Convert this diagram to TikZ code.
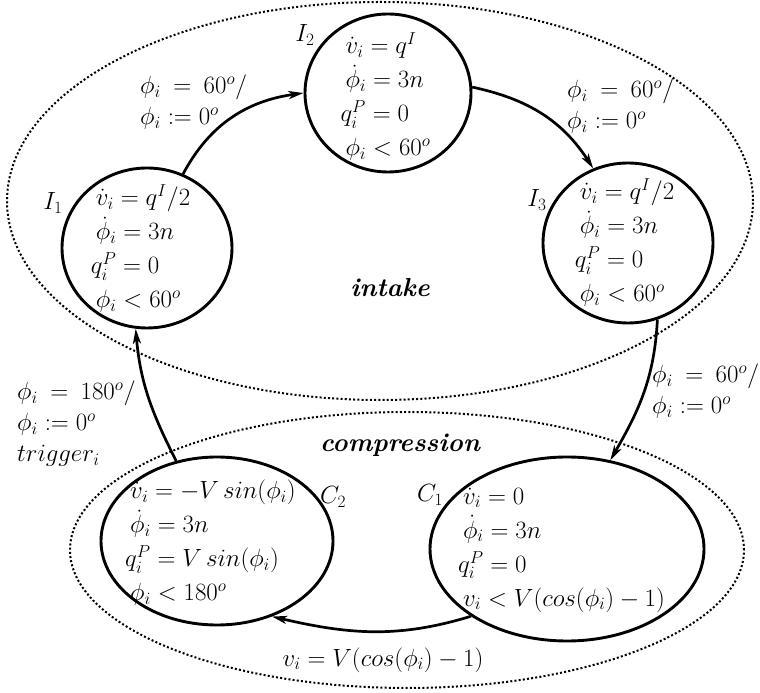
\documentclass[tikz,border=0pt]{standalone}
\usetikzlibrary{arrows.meta,shapes.geometric}
\begin{document}
\begin{tikzpicture}[x=1pt,y=1pt,
  stateshape/.style={ellipse, draw, line width=2.9pt, inner sep=0pt},
  statetext/.style={inner sep=0pt, align=left, font=\fontsize{24}{34}\selectfont},
  lbl/.style={inner sep=0pt, font=\fontsize{24}{30}\selectfont},
  elbl/.style={inner sep=0pt, align=left, anchor=west, font=\fontsize{24}{31}\selectfont},
  trans/.style={line width=2.7pt, -{Stealth[length=15pt,width=8pt,inset=4pt]}},
  region/.style={line width=2pt, dash pattern=on 2pt off 2.2pt},
  regionname/.style={inner sep=0pt, font=\fontsize{26}{30}\selectfont\bfseries\itshape}
]
\useasboundingbox (0,0) rectangle (760,693);
% regions
\draw[region] (380,492) ellipse [x radius=373, y radius=199];
\draw[region] (407,143) ellipse [x radius=337, y radius=138];
\node[regionname] (intake) at (390,405) {intake};
\node[regionname] (comp) at (400,248) {compression};
% state shapes
\node[stateshape, minimum width=170pt, minimum height=160pt] (I1) at (147,445) {};
\node[stateshape, minimum width=166pt, minimum height=158pt] (I2) at (388,600) {};
\node[stateshape, minimum width=170pt, minimum height=160pt] (I3) at (628,450) {};
\node[stateshape, minimum width=232pt, minimum height=168pt] (C2) at (217,152) {};
\node[stateshape, minimum width=274pt, minimum height=184pt] (C1) at (567,144) {};
% state texts
\node[statetext] (I1t) at (143,444) {$\dot{v}_i = q^I/2$\\$\dot{\phi}_i = 3n$\\\hspace*{-5pt}$q_i^P = 0$\\$\phi_i < 60^o$};
\node[statetext] (I2t) at (388,596) {$\dot{v}_i = q^I$\\$\dot{\phi}_i = 3n$\\\hspace*{-5pt}$q_i^P = 0$\\$\phi_i < 60^o$};
\node[statetext] (I3t) at (627,450) {$\dot{v}_i = q^I/2$\\$\dot{\phi}_i = 3n$\\\hspace*{-5pt}$q_i^P = 0$\\$\phi_i < 60^o$};
\node[statetext] (C2t) at (213,150) {$\dot{v}_i = -V\,sin(\phi_i)$\\$\dot{\phi}_i = 3n$\\\hspace*{-5pt}$q_i^P = V\,sin(\phi_i)$\\$\phi_i < 180^o$};
\node[statetext] (C1t) at (564,143) {$\dot{v}_i = 0$\\$\dot{\phi}_i = 3n$\\\hspace*{-5pt}$q_i^P = 0$\\$v_i < V\big(cos(\phi_i) - 1\big)$};
% state names
\node[lbl] (I1n) at (53,490) {$I_1$};
\node[lbl] (I2n) at (305,658) {$I_2$};
\node[lbl] (I3n) at (537,493) {$I_3$};
\node[lbl] (C2n) at (333,196) {$C_2$};
\node[lbl] (C1n) at (430,198) {$C_1$};
% transitions
\draw[trans] (I1.64) to[out=62,in=188] (I2.180);
\draw[trans] (I2.4) to[out=-12,in=123] (I3.115);
\draw[trans] (I3.-69) to[out=-93,in=60] (C1.64);
\draw[trans] (C1.215) to[out=197,in=-13] (C2.-54);
\draw[trans] (C2.117) to[out=117,in=-85] (I1.262);
% transition labels
\node[elbl] (e12) at (140,591) {$\phi_i\:=\:60^o/$\\$\phi_i := 0^o$};
\node[elbl] (e23) at (567,587) {$\phi_i\:=\:60^o/$\\$\phi_i := 0^o$};
\node[elbl] (e3c) at (652,302) {$\phi_i\:=\:60^o/$\\$\phi_i := 0^o$};
\node[elbl] (e5) at (17,269) {$\phi_i\:=\:180^o/$\\$\phi_i := 0^o$\\$trigger_i$};
\node[lbl] (e4) at (383,33) {$v_i = V\big(cos(\phi_i) - 1\big)$};
\end{tikzpicture}
\end{document}
